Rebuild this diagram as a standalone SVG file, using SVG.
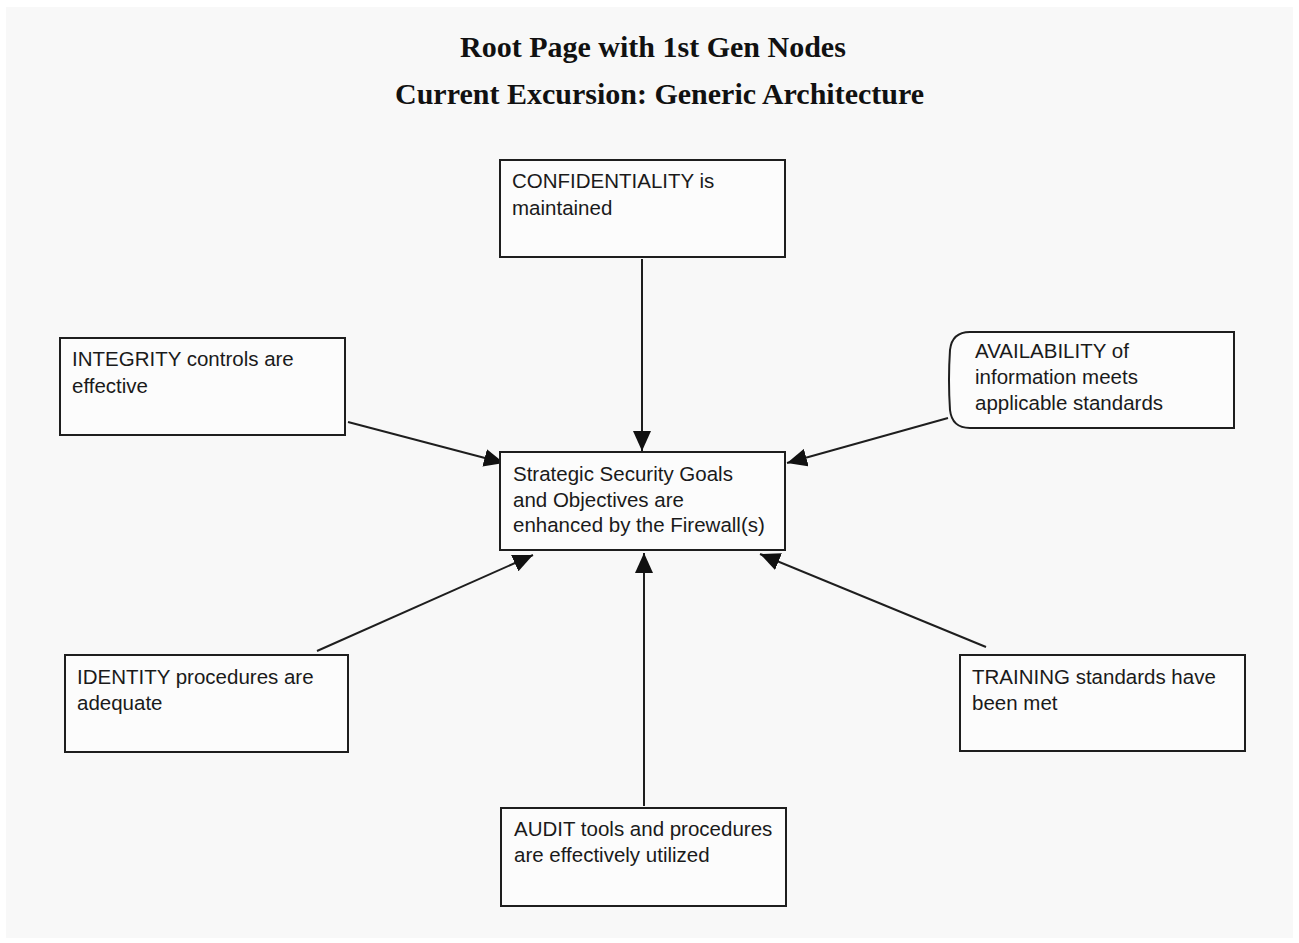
<svg xmlns="http://www.w3.org/2000/svg" width="1299" height="943" viewBox="0 0 1299 943">
<style>
.box{fill:#fcfcfc;stroke:#1e1e1e;stroke-width:2}
.t{font-family:"Liberation Sans",Arial,sans-serif;font-size:20.5px;fill:#1a1a1a}
.title{font-family:"Liberation Serif","Times New Roman",serif;font-size:30px;font-weight:bold;fill:#111}
.conn{stroke:#1e1e1e;stroke-width:2;fill:none;marker-end:url(#arr)}
</style>
<defs>
<marker id="arr" markerUnits="userSpaceOnUse" markerWidth="20" markerHeight="18" refX="20" refY="9" orient="auto">
<path d="M0,0 L20,9 L0,18 Z" fill="#111"/>
</marker>
</defs>
<rect x="0" y="0" width="1299" height="943" fill="#ffffff"/>
<rect x="6" y="7" width="1287" height="931" fill="#f8f8f8"/>
<g id="titles">
<text class="title" x="460" y="57">Root Page with 1st Gen Nodes</text>
<text class="title" x="395" y="104">Current Excursion: Generic Architecture</text>
</g>
<g id="connectors">
<line class="conn" x1="642" y1="259" x2="642" y2="451"/>
<line class="conn" x1="348" y1="422" x2="504" y2="463"/>
<line class="conn" x1="948" y1="418" x2="787" y2="463"/>
<line class="conn" x1="317" y1="651" x2="533" y2="555"/>
<line class="conn" x1="644" y1="806" x2="644" y2="553"/>
<line class="conn" x1="986" y1="647" x2="760" y2="554"/>
</g>
<g id="confidentiality">
<rect class="box" x="500" y="160" width="285" height="97"/>
<text class="t" x="512" y="188">CONFIDENTIALITY is</text>
<text class="t" x="512" y="215">maintained</text>
</g>
<g id="integrity">
<rect class="box" x="60" y="338" width="285" height="97"/>
<text class="t" x="72" y="366">INTEGRITY controls are</text>
<text class="t" x="72" y="393">effective</text>
</g>
<g id="availability">
<path class="box" d="M970,332 H1234 V428 H970 Q952,428 950,410 Q948,380 950,350 Q952,332 970,332 Z"/>
<text class="t" x="975" y="358">AVAILABILITY of</text>
<text class="t" x="975" y="384">information meets</text>
<text class="t" x="975" y="410">applicable standards</text>
</g>
<g id="center">
<rect class="box" x="500" y="452" width="285" height="98"/>
<text class="t" x="513" y="481">Strategic Security Goals</text>
<text class="t" x="513" y="507">and Objectives are</text>
<text class="t" x="513" y="532">enhanced by the Firewall(s)</text>
</g>
<g id="identity">
<rect class="box" x="65" y="655" width="283" height="97"/>
<text class="t" x="77" y="684">IDENTITY procedures are</text>
<text class="t" x="77" y="710">adequate</text>
</g>
<g id="audit">
<rect class="box" x="501" y="808" width="285" height="98"/>
<text class="t" x="514" y="836">AUDIT tools and procedures</text>
<text class="t" x="514" y="862">are effectively utilized</text>
</g>
<g id="training">
<rect class="box" x="960" y="655" width="285" height="96"/>
<text class="t" x="972" y="684">TRAINING standards have</text>
<text class="t" x="972" y="710">been met</text>
</g>
</svg>
